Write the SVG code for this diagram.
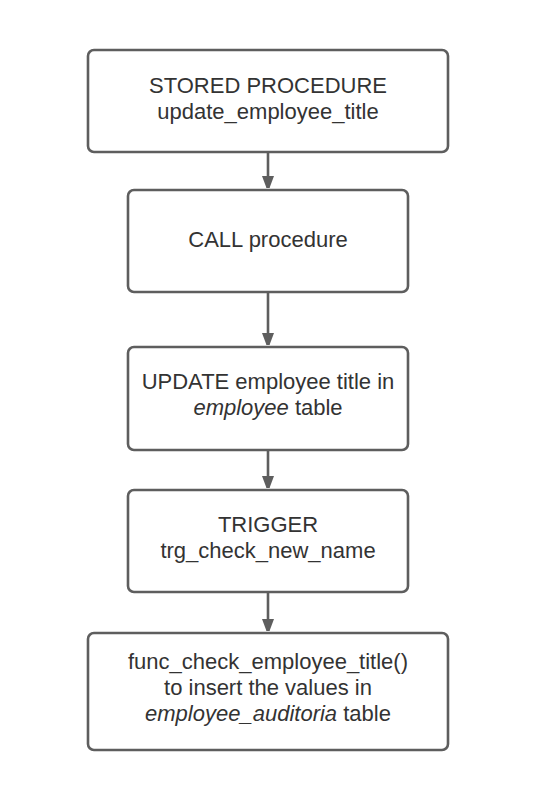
<svg xmlns="http://www.w3.org/2000/svg" width="543" height="806" viewBox="0 0 543 806">
<style>
.box{fill:#ffffff;stroke:#5e5e5e;stroke-width:2.6}
.t{font-family:"Liberation Sans",Arial,sans-serif;font-size:22px;fill:#333333;text-anchor:middle}
.i{font-style:italic}
.c{stroke:#5e5e5e;stroke-width:2.6;fill:none}
</style>
<defs>
<marker id="ah" markerUnits="userSpaceOnUse" markerWidth="12" markerHeight="17" refX="12" refY="6" orient="auto">
<path d="M0,0 L16,6 L0,12 z" fill="#5e5e5e"/>
</marker>
</defs>
<rect width="543" height="806" fill="#ffffff"/>
<g id="connectors">
<line class="c" x1="268" y1="152" x2="268" y2="188" marker-end="url(#ah)"/>
<line class="c" x1="268" y1="292" x2="268" y2="345" marker-end="url(#ah)"/>
<line class="c" x1="268" y1="450" x2="268" y2="488" marker-end="url(#ah)"/>
<line class="c" x1="268" y1="592" x2="268" y2="631" marker-end="url(#ah)"/>
</g>
<g id="stored-procedure">
<rect class="box" x="88" y="50" width="360" height="102" rx="6"/>
<text class="t" x="268" y="93">STORED PROCEDURE</text>
<text class="t" x="268" y="119">update_employee_title</text>
</g>
<g id="call-procedure">
<rect class="box" x="128" y="190" width="280" height="102" rx="6"/>
<text class="t" x="268" y="247">CALL procedure</text>
</g>
<g id="update-title">
<rect class="box" x="128" y="347" width="280" height="103" rx="6"/>
<text class="t" x="268" y="389">UPDATE employee title in</text>
<text class="t" x="268" y="415"><tspan class="i">employee</tspan> table</text>
</g>
<g id="trigger">
<rect class="box" x="128" y="490" width="280" height="102" rx="6"/>
<text class="t" x="268" y="532">TRIGGER</text>
<text class="t" x="268" y="558">trg_check_new_name</text>
</g>
<g id="func-check">
<rect class="box" x="88" y="633" width="360" height="117" rx="6"/>
<text class="t" x="268" y="669">func_check_employee_title()</text>
<text class="t" x="268" y="695">to insert the values in</text>
<text class="t" x="268" y="721"><tspan class="i">employee_auditoria</tspan> table</text>
</g>
</svg>
